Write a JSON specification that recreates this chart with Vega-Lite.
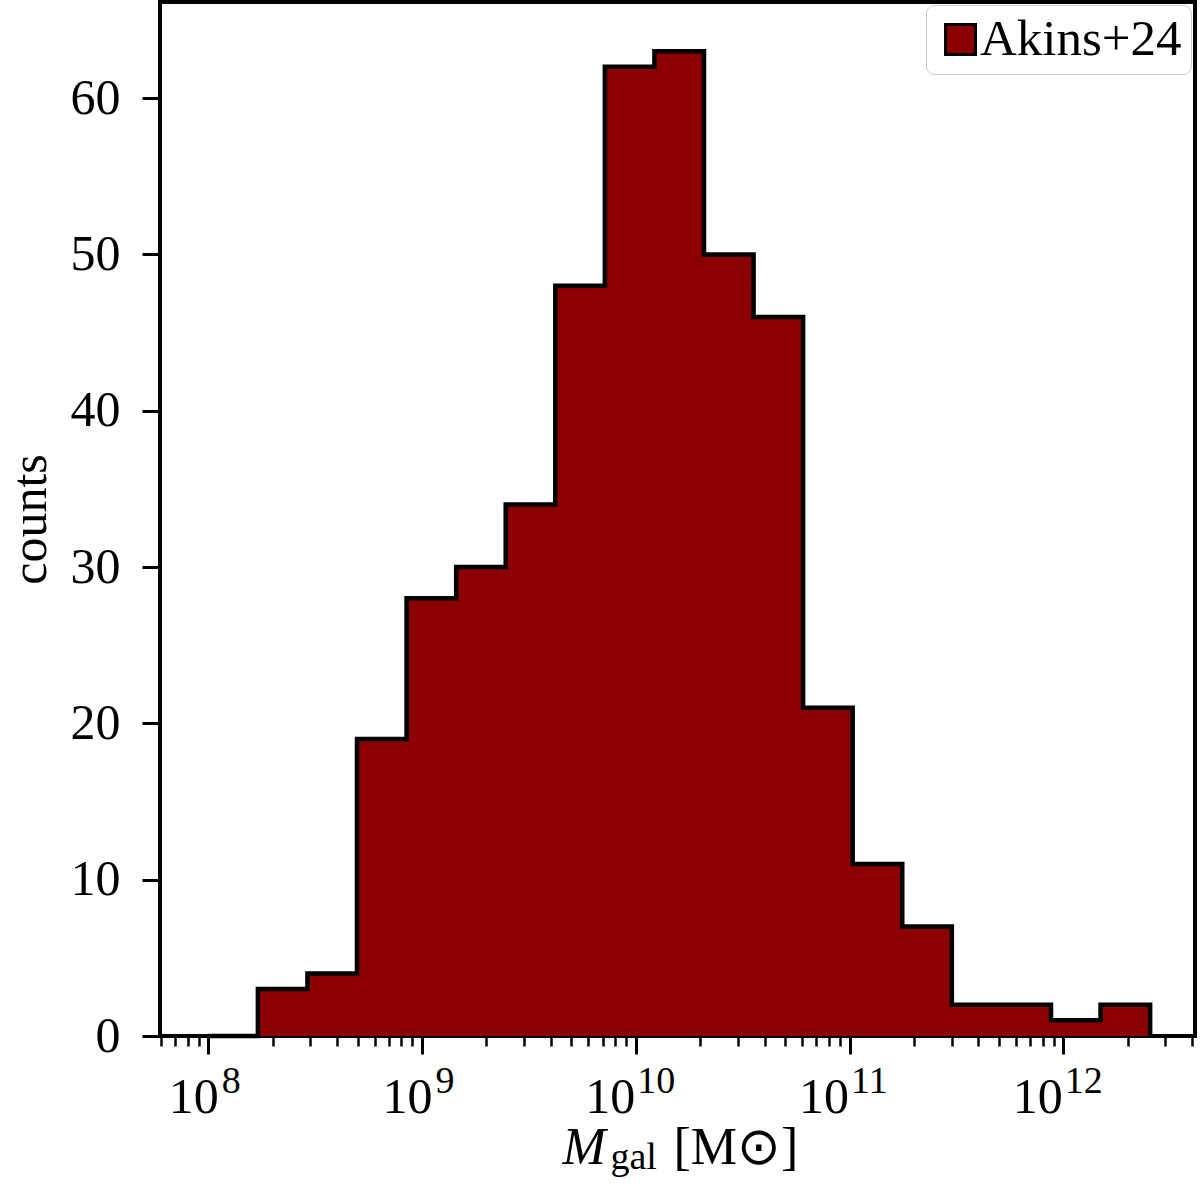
{
  "$schema": "https://vega.github.io/schema/vega-lite/v6.json",
  "description": "Histogram of galaxy stellar mass, Akins+24",
  "autosize": "none",
  "padding": {"left": 160, "top": 2, "right": 5, "bottom": 166},
  "width": 1035,
  "height": 1034,
  "background": "white",
  "config": {
    "font": "Liberation Serif",
    "view": {"stroke": "black", "strokeWidth": 4},
    "axis": {
      "domain": false,
      "grid": false,
      "tickColor": "black",
      "labelColor": "black",
      "titleColor": "black",
      "labelFont": "Liberation Serif",
      "titleFont": "Liberation Serif",
      "titleFontWeight": "normal",
      "labelFontSize": 50,
      "titleFontSize": 52
    }
  },
  "data": {
    "values": [
      {"mass": 1.000e8, "counts": 0, "sample": "Akins+24"},
      {"mass": 1.706e8, "counts": 3, "sample": "Akins+24"},
      {"mass": 2.909e8, "counts": 4, "sample": "Akins+24"},
      {"mass": 4.962e8, "counts": 19, "sample": "Akins+24"},
      {"mass": 8.465e8, "counts": 28, "sample": "Akins+24"},
      {"mass": 1.444e9, "counts": 30, "sample": "Akins+24"},
      {"mass": 2.462e9, "counts": 34, "sample": "Akins+24"},
      {"mass": 4.200e9, "counts": 48, "sample": "Akins+24"},
      {"mass": 7.164e9, "counts": 62, "sample": "Akins+24"},
      {"mass": 1.222e10, "counts": 63, "sample": "Akins+24"},
      {"mass": 2.084e10, "counts": 50, "sample": "Akins+24"},
      {"mass": 3.555e10, "counts": 46, "sample": "Akins+24"},
      {"mass": 6.063e10, "counts": 21, "sample": "Akins+24"},
      {"mass": 1.034e11, "counts": 11, "sample": "Akins+24"},
      {"mass": 1.764e11, "counts": 7, "sample": "Akins+24"},
      {"mass": 3.009e11, "counts": 2, "sample": "Akins+24"},
      {"mass": 5.132e11, "counts": 2, "sample": "Akins+24"},
      {"mass": 8.754e11, "counts": 1, "sample": "Akins+24"},
      {"mass": 1.493e12, "counts": 2, "sample": "Akins+24"},
      {"mass": 2.547e12, "counts": 0, "sample": "Akins+24"}
    ]
  },
  "layer": [
    {
      "mark": {"type": "area", "interpolate": "step-after", "opacity": 1},
      "encoding": {
        "x": {
          "field": "mass",
          "type": "quantitative",
          "scale": {"type": "log", "domain": [5.943e7, 4.130e12], "nice": false},
          "axis": {
            "orient": "bottom",
            "values": [1e8, 1e9, 1e10, 1e11, 1e12],
            "labelExpr": "'10'",
            "labelAlign": "right",
            "labelOffset": {"condition": {"test": "datum.value >= 5e9", "value": -1}, "value": 10},
            "tickSize": 18,
            "tickWidth": 3,
            "labelBaseline": "alphabetic",
            "labelPadding": 58,
            "title": "M",
            "titleFontStyle": "italic",
            "titleAlign": "left",
            "titleBaseline": "alphabetic",
            "titleX": 402,
            "titleY": 127
          }
        },
        "y": {
          "field": "counts",
          "type": "quantitative",
          "scale": {"domain": [0, 66.15], "nice": false, "zero": true},
          "axis": {
            "values": [0, 10, 20, 30, 40, 50, 60],
            "tickSize": 18,
            "tickWidth": 3,
            "labelPadding": 22,
            "title": "counts",
            "titleFontSize": 50,
            "titleBaseline": "alphabetic",
            "titleX": -115,
            "titleY": 517
          }
        },
        "color": {
          "field": "sample",
          "type": "nominal",
          "scale": {"range": ["#8b0000"]},
          "legend": {
            "title": null,
            "orient": "none",
            "legendX": 766,
            "legendY": 3,
            "symbolType": "square",
            "symbolSize": 900,
            "symbolStrokeColor": "black",
            "symbolStrokeWidth": 3,
            "symbolOpacity": 1,
            "labelFontSize": 51,
            "labelFont": "Liberation Serif",
            "labelColor": "black",
            "labelLimit": 500,
            "labelOffset": -6,
            "padding": 9,
            "cornerRadius": 8,
            "strokeColor": "#c8c8c8",
            "fillColor": "white"
          }
        }
      }
    },
    {
      "mark": {"type": "line", "interpolate": "step-after", "color": "black", "strokeWidth": 4.5},
      "encoding": {
        "x": {
          "field": "mass",
          "type": "quantitative",
          "scale": {"type": "log", "domain": [5.943e7, 4.130e12], "nice": false},
          "axis": {
            "orient": "bottom",
            "values": [6e7, 7e7, 8e7, 9e7, 1e8, 2e8, 3e8, 4e8, 5e8, 6e8, 7e8, 8e8, 9e8, 1e9, 2e9, 3e9, 4e9, 5e9, 6e9, 7e9, 8e9, 9e9, 1e10, 2e10, 3e10, 4e10, 5e10, 6e10, 7e10, 8e10, 9e10, 1e11, 2e11, 3e11, 4e11, 5e11, 6e11, 7e11, 8e11, 9e11, 1e12, 2e12, 3e12, 4e12],
            "labelExpr": "abs(log(datum.value) / LN10 - round(log(datum.value) / LN10)) < 0.001 ? format(round(log(datum.value) / LN10), 'd') : ''",
            "labelFontSize": 38,
            "labelAlign": "left",
            "labelOffset": {"condition": {"test": "datum.value >= 5e9", "value": 1}, "value": 13},
            "labelBaseline": "alphabetic",
            "labelPadding": 46,
            "tickSize": 10,
            "tickWidth": 2.5,
            "tickOpacity": {"condition": {"test": "abs(log(datum.value) / LN10 - round(log(datum.value) / LN10)) < 0.001", "value": 0}, "value": 1},
            "title": "gal",
            "titleFontSize": 38,
            "titleAlign": "left",
            "titleBaseline": "alphabetic",
            "titleX": 450,
            "titleY": 132
          }
        },
        "y": {
          "field": "counts",
          "type": "quantitative",
          "scale": {"domain": [0, 66.15], "nice": false, "zero": true},
          "axis": {
            "orient": "left",
            "ticks": false,
            "labels": false,
            "title": "[M⊙]",
            "titleAngle": 0,
            "titleAlign": "left",
            "titleBaseline": "alphabetic",
            "titleX": 513,
            "titleY": 1161
          }
        }
      }
    }
  ],
  "resolve": {"axis": {"x": "independent", "y": "independent"}}
}
